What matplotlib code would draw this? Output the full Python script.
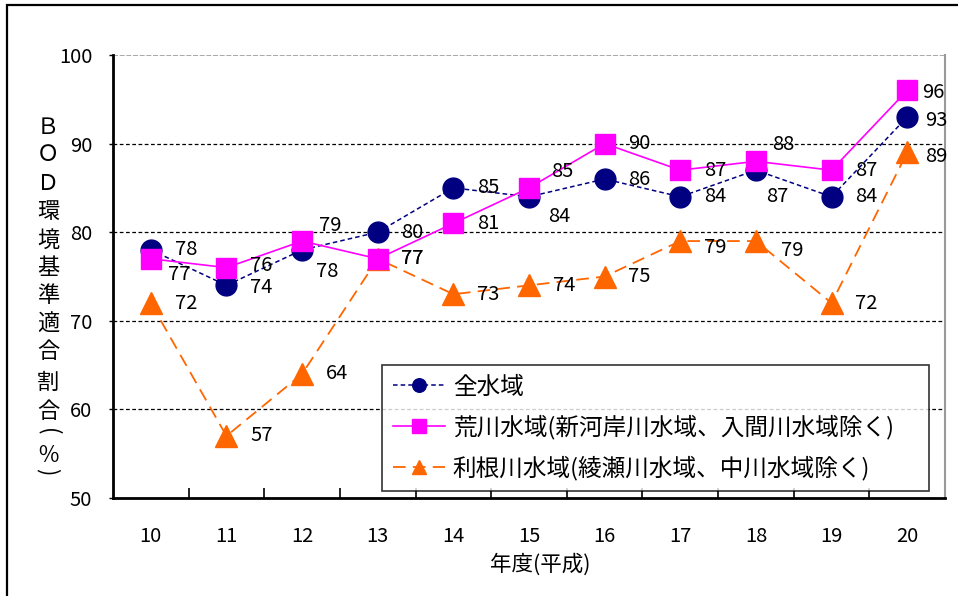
import matplotlib
matplotlib.use("Agg")
import matplotlib.pyplot as plt
from matplotlib.patches import Rectangle

plt.rcParams["font.family"] = ["Noto Sans CJK JP", "DejaVu Sans"]

years = ["10", "11", "12", "13", "14", "15", "16", "17", "18", "19", "20"]
all_water = [78, 74, 78, 80, 85, 84, 86, 84, 87, 84, 93]
arakawa = [77, 76, 79, 77, 81, 85, 90, 87, 88, 87, 96]
tone = [72, 57, 64, 77, 73, 74, 75, 79, 79, 72, 89]

names = ["全水域",
         "荒川水域(新河岸川水域、入間川水域除く)",
         "利根川水域(綾瀬川水域、中川水域除く)"]

# label offsets in pixels (default right of marker)
D = (35, 0)
off_all = [D, (35, -2), (25, -22), D, D, (30, -20), D, D, (21, -26), D, (29, -3)]
off_ara = [(28, -16), (35, 2), (28, 16), D, D, (33, 16), D, D, (27, 17), D, (26, -2)]
off_ton = [D, D, D, D, D, D, D, (35, -6), (36, -9), D, (29, -4)]

W, H = 958, 596
fig = plt.figure(figsize=(W / 100, H / 100), dpi=100)
ax = fig.add_axes([113 / W, 1 - 498 / H, (945 - 113) / W, (498 - 55) / H])

x = list(range(len(years)))
ax.plot(x, all_water, color="#000080", ls=(0, (3, 2)), lw=1.1, marker="o",
        ms=15, mfc="#000080", mec="#000080", label=names[0], zorder=4)
ax.plot(x, arakawa, color="#FF00FF", ls="-", lw=1.2, marker="s",
        ms=15, mfc="#FF00FF", mec="#FF00FF", label=names[1], zorder=5)
ax.plot(x, tone, color="#FF6600", ls=(0, (7, 4)), lw=1.3, marker="^",
        ms=16, mfc="#FF6600", mec="#FF6600", label=names[2], zorder=3)

for vals, offs in ((all_water, off_all), (arakawa, off_ara), (tone, off_ton)):
    for i, (v, o) in enumerate(zip(vals, offs)):
        ax.annotate(f"{v}", (i, v), xytext=o, textcoords="offset pixels",
                    ha="center", va="center", fontsize=14.5, color="black",
                    zorder=6)

ax.set_xlim(-0.5, len(years) - 0.5)
ax.set_ylim(50, 100)
ax.set_yticks([50, 60, 70, 80, 90, 100])
ax.set_xticks(x)
ax.set_xticklabels(years)
ax.set_xticks([i + 0.5 for i in range(len(years) - 1)], minor=True)
ax.tick_params(axis="x", which="major", length=0, pad=20, labelsize=14.5)
ax.tick_params(axis="x", which="minor", direction="in", length=7, width=1.2)
ax.tick_params(axis="y", length=3, width=1, pad=12, labelsize=14.5)

for yv in (60, 70, 80, 90):
    ax.axhline(yv, color="black", lw=0.9, ls=(0, (3, 2)), zorder=1)
ax.axhline(100, color="#999999", lw=1.2, ls=(0, (3, 1)), zorder=1)

ax.spines["left"].set_linewidth(2)
ax.spines["bottom"].set_linewidth(2)
ax.spines["top"].set_visible(False)
ax.spines["right"].set_color("#999999")
ax.spines["right"].set_linewidth(1.5)

fig.text(540 / W, 1 - 565 / H, "年度(平成)", ha="center", va="center", fontsize=15.5)

# vertical y-axis label, one character per line (parentheses turned sideways)
ylab = list("ＢＯＤ環境基準適合割合") + ["(", "％", ")"]
ylab_y = [127, 155, 183, 211, 240, 268, 296, 324, 352, 382, 412, 432, 455, 472]
ylab_rot = [0] * 11 + [-90, 0, -90]
for ch, yy, r in zip(ylab, ylab_y, ylab_rot):
    fig.text(48 / W, 1 - yy / H, ch, ha="center", va="center", fontsize=16,
             rotation=r, rotation_mode="anchor")

leg = ax.legend(loc="upper left", bbox_to_anchor=((382 - 113) / (945 - 113), (498 - 365) / (498 - 55),
                                                  (929 - 382) / (945 - 113), 0),
                mode="expand", fontsize=17, frameon=True, fancybox=False,
                edgecolor="black", handlelength=2.2, handletextpad=0.35,
                borderaxespad=0, labelspacing=0.68, borderpad=0.45,
                markerscale=0.65)
leg.get_frame().set_linewidth(1.2)

fig.patches.append(Rectangle((7 / W, -0.1), 1.2, 1 - 5 / H + 0.1, transform=fig.transFigure,
                             fill=False, edgecolor="black", lw=1.6))

fig.savefig("out.png", dpi=100)
